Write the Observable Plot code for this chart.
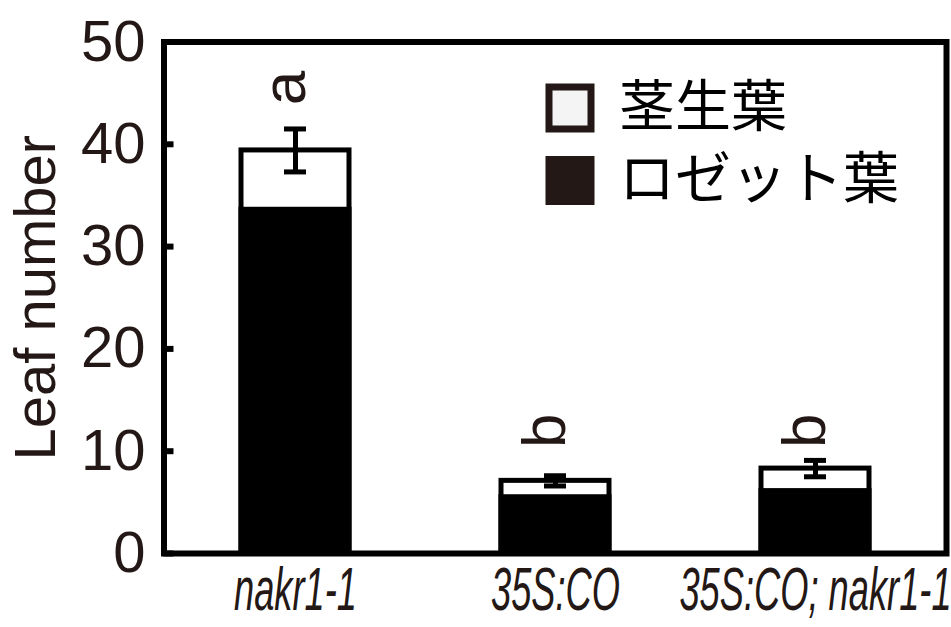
<!DOCTYPE html>
<html>
<head>
<meta charset="utf-8">
<script src="https://cdn.jsdelivr.net/npm/d3@7"></script>
<script src="https://cdn.jsdelivr.net/npm/@observablehq/plot@0.6"></script>
<style>
  html, body { margin: 0; padding: 0; background: #fff; }
  #chart { width: 951px; height: 627px; }
</style>
</head>
<body>
<div id="chart"></div>
<script>
// Leaf number at flowering: rosette leaves (black) with cauline leaves stacked on top (white)
const genotypes = ["nakr1-1", "35S:CO", "35S:CO; nakr1-1"];
const rosetteLeaves = [33.6, 5.5, 6.1];
const caulineLeaves = [5.8, 1.6, 2.2];
const errors = [2.1, 0.5, 0.8];
const letters = ["a", "b", "b"];
const letterY = [45.5, 12.0, 12.0];
const yTicks = [0, 10, 20, 30, 40, 50];
const legendLabels = ["茎生葉", "ロゼット葉"];
const legendFills = ["#f4f4f4", "#231815"];

const ink = "#231815";
const latin = "'Liberation Sans', Arial, Helvetica, sans-serif";
const cjk = "'Noto Sans CJK JP', 'Noto Sans CJK SC', sans-serif";

const rows = genotypes.map((g, i) => ({
  genotype: g,
  rosette: rosetteLeaves[i],
  total: rosetteLeaves[i] + caulineLeaves[i],
  lo: rosetteLeaves[i] + caulineLeaves[i] - errors[i],
  hi: rosetteLeaves[i] + caulineLeaves[i] + errors[i],
  letter: letters[i],
  letterY: letterY[i]
}));

const legendMarks = legendLabels.flatMap((label, i) => [
  Plot.dot([label], {
    frameAnchor: "top-left", dx: 406, dy: 66 + i * 72.5,
    symbol: "square", r: 23.7, fill: legendFills[i], stroke: ink, strokeWidth: 7
  }),
  Plot.text([label], {
    frameAnchor: "top-left", dx: 455, dy: 66 + i * 72.5,
    text: d => d, textAnchor: "start", lineAnchor: "middle",
    fontSize: 56, fontFamily: cjk, fill: "#000"
  })
]);

const chart = Plot.plot({
  width: 951,
  height: 627,
  marginLeft: 163.5,
  marginRight: 5,
  marginTop: 41.5,
  marginBottom: 74,
  style: { fontFamily: latin, background: "#fff" },
  x: { domain: genotypes, paddingInner: 0.586, paddingOuter: 0.293, axis: null },
  y: { domain: [0, 50], axis: null },
  marks: [
    // stacked bars: total height (white, outlined), rosette part (black)
    Plot.barY(rows, { x: "genotype", y: "total", fill: "#fff", stroke: "#000", strokeWidth: 5 }),
    Plot.barY(rows, { x: "genotype", y: "rosette", fill: "#000", stroke: "#000", strokeWidth: 5 }),
    // error bars
    Plot.ruleX(rows, { x: "genotype", y1: "lo", y2: "hi", stroke: "#000", strokeWidth: 5 }),
    Plot.tickY(rows, { x: "genotype", y: "lo", stroke: "#000", strokeWidth: 5, insetLeft: 43, insetRight: 43 }),
    Plot.tickY(rows, { x: "genotype", y: "hi", stroke: "#000", strokeWidth: 5, insetLeft: 43, insetRight: 43 }),
    // significance letters
    Plot.text(rows, {
      x: "genotype", y: "letterY", text: "letter", rotate: -90, dx: -10,
      fontSize: 62, fill: ink, lineAnchor: "middle", textAnchor: "middle"
    }),
    // axes
    Plot.axisY({ ticks: yTicks, tickSize: -10, tickPadding: 28.5, strokeWidth: 6, stroke: "#000",
                 fontSize: 58, fill: ink, label: null }),
    Plot.axisX({ tickSize: 0, tickPadding: 12, fontSize: 62, fontStyle: "italic", fill: ink, label: null }),
    Plot.text(["Leaf number"], {
      frameAnchor: "left", rotate: -90, dx: -128, fontSize: 58, fill: ink,
      lineAnchor: "middle", textAnchor: "middle"
    }),
    ...legendMarks,
    Plot.frame({ stroke: "#000", strokeWidth: 6 })
  ]
});

// condensed italic genotype labels
d3.select(chart).selectAll('g[aria-label="x-axis tick label"] text').each(function () {
  const t = this.getAttribute("transform") || "";
  this.setAttribute("transform", t + " scale(0.585,1)");
});

document.getElementById("chart").appendChild(chart);
</script>
</body>
</html>
